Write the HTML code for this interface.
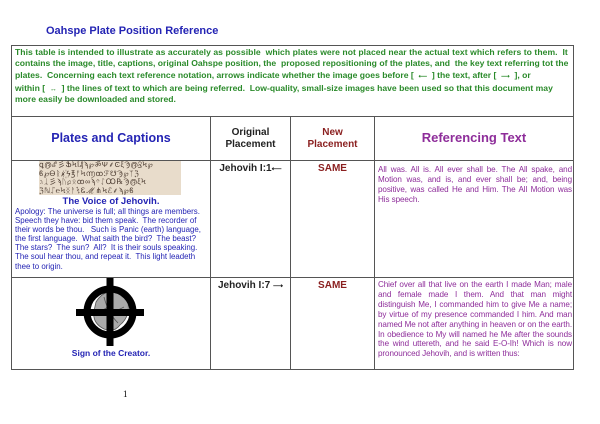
<!DOCTYPE html>
<html><head><meta charset="utf-8"><style>
body{margin:0;width:600px;height:424px;background:#fff;position:relative;overflow:hidden;font-family:"Liberation Sans",Arial,sans-serif}
.a{position:absolute;white-space:nowrap}
.l{position:absolute;background:#555}
.g{color:#2a8a2a;font-weight:bold;font-size:8.6px;line-height:11px}
.b{color:#2424b4}
.p{color:#8e2d9a;font-size:8.1px;line-height:9.9px;text-align:justify;white-space:normal;letter-spacing:-0.08px}
.h{font-weight:bold;text-align:center;white-space:normal}
</style></head><body>
<div class="a b" style="left:46px;top:25px;font-size:11px;font-weight:bold">Oahspe Plate Position Reference</div>
<div class="l" style="left:11px;top:45px;width:563px;height:1px"></div>
<div class="l" style="left:11px;top:45px;width:1px;height:325px"></div>
<div class="l" style="left:573px;top:45px;width:1px;height:325px"></div>
<div class="l" style="left:11px;top:116px;width:563px;height:1px"></div>
<div class="l" style="left:11px;top:160px;width:563px;height:1px"></div>
<div class="l" style="left:11px;top:277px;width:563px;height:1px"></div>
<div class="l" style="left:11px;top:369px;width:563px;height:1px"></div>
<div class="l" style="left:210px;top:116px;width:1px;height:254px"></div>
<div class="l" style="left:290px;top:116px;width:1px;height:254px"></div>
<div class="l" style="left:374px;top:116px;width:1px;height:254px"></div>
<div class="a g" style="left:15px;top:47px;letter-spacing:0.05px">This table is intended to illustrate as accurately as possible&nbsp; which plates were not placed near the actual text which refers to them.&nbsp; It</div>
<div class="a g" style="left:15px;top:58px">contains the image, title, captions, original Oahspe position, the&nbsp; proposed repositioning of the plates, and&nbsp; the key text referring tot the</div>
<div class="a g" style="left:15px;top:70px">plates.&nbsp; Concerning each text reference notation, arrows indicate whether the image goes before [ &nbsp;<span style="font-size:6px">⟵</span>&nbsp; ] the text, after [ &nbsp;<span style="font-size:6px">⟶</span>&nbsp; ], or</div>
<div class="a g" style="left:15px;top:83px">within [ &nbsp;<span style="font-size:7px">↔</span>&nbsp; ] the lines of text to which are being referred.&nbsp; Low-quality, small-size images have been used so that this document may</div>
<div class="a g" style="left:15px;top:94px">more easily be downloaded and stored.</div>
<div class="a b" style="left:12px;width:198px;top:131px;font-size:12.5px;font-weight:bold;text-align:center">Plates and Captions</div>
<div class="a h" style="left:211px;width:79px;top:127px;font-size:10px;line-height:11.5px;color:#222">Original<br>Placement</div>
<div class="a h" style="left:291px;width:83px;top:127px;font-size:10px;line-height:11.5px;color:#8a1f1f">New<br>Placement</div>
<div class="a" style="left:375px;width:198px;top:130px;font-size:13px;font-weight:bold;text-align:center;color:#8e2d9a">Referencing Text</div>
<div class="a" style="left:39px;top:161px;width:142px;height:34px;background:#e8dccb;color:#4a3a30;font-size:7.5px;line-height:8.5px;overflow:hidden;letter-spacing:0.5px">ꝗ൫ℰ彡ՖϞῗ₰ϡ℘ॐΨ⸙ϾξϠ൫ℨϞ℘<br>ϐ℘Ꮎᚱ✗꙰ϟ℥ᚠϞ൬ꝏℱ☋Ϡ℘ᛉℨ<br>ℷᛣ彡ϡᚢ℘ᛟꝏ∞ϡᛜᛇꝎ℞Ϡ൫ξϞ<br>ℨℕᛢ℮ϞᛝᚨᛪᏋℳ⋔Ϟℰ⸙ϡ℘ϐ</div>
<div class="a b" style="left:12px;width:198px;top:196px;font-size:9.5px;font-weight:bold;text-align:center">The Voice of Jehovih.</div>
<div class="a b" style="left:15px;top:207px;font-size:7.9px;line-height:9.1px">Apology: The universe is full; all things are members.<br>Speech they have: bid them speak.&nbsp; The recorder of<br>their words be thou.&nbsp;&nbsp; Such is Panic (earth) language,<br>the first language.&nbsp; What saith the bird?&nbsp; The beast?<br>The stars?&nbsp; The sun?&nbsp; All?&nbsp; It is their souls speaking.<br>The soul hear thou, and repeat it.&nbsp; This light leadeth<br>thee to origin.</div>
<div class="a" style="left:211px;width:79px;top:163px;font-size:10px;font-weight:bold;text-align:center;color:#222">Jehovih I:1<span style="font-size:7px">⟵</span></div>
<div class="a" style="left:291px;width:83px;top:163px;font-size:10px;font-weight:bold;text-align:center;color:#8a1f1f">SAME</div>
<div class="a p" style="left:378px;width:194px;top:165px">All was. All is. All ever shall be. The All spake, and Motion was, and is, and ever shall be; and, being positive, was called He and Him. The All Motion was His speech.</div>
<svg class="a" style="left:74px;top:277px" width="72" height="72" viewBox="0 0 72 72">
<path d="M22 25 Q30 12 42 16 Q52 14 54 26 Q56 40 46 48 Q40 56 30 52 Q18 46 20 34Z" fill="#aaa" stroke="#555" stroke-width="0.8"/>
<path d="M30 20 Q34 36 44 46 M34 30 L24 36 M38 36 L50 30" stroke="#555" stroke-width="0.8" fill="none"/>
<circle cx="36" cy="35" r="23" fill="none" stroke="#000" stroke-width="7"/>
<rect x="2" y="32" width="68" height="7" fill="#000"/>
<rect x="32.5" y="1" width="7" height="68" fill="#000"/>
</svg>
<div class="a b" style="left:12px;width:198px;top:348px;font-size:8.5px;font-weight:bold;text-align:center">Sign of the Creator.</div>
<div class="a" style="left:211px;width:79px;top:280px;font-size:10px;font-weight:bold;text-align:center;color:#222">Jehovih I:7 <span style="font-size:7px">⟶</span></div>
<div class="a" style="left:291px;width:83px;top:280px;font-size:10px;font-weight:bold;text-align:center;color:#8a1f1f">SAME</div>
<div class="a p" style="left:378px;width:194px;top:280px">Chief over all that live on the earth I made Man; male and female made I them. And that man might distinguish Me, I commanded him to give Me a name; by virtue of my presence commanded I him. And man named Me not after anything in heaven or on the earth. In obedience to My will named he Me after the sounds the wind uttereth, and he said E-O-Ih! Which is now pronounced Jehovih, and is written thus:</div>
<div class="a" style="left:123px;top:389px;font-size:9px;font-family:'Liberation Serif',serif">1</div>
</body></html>
